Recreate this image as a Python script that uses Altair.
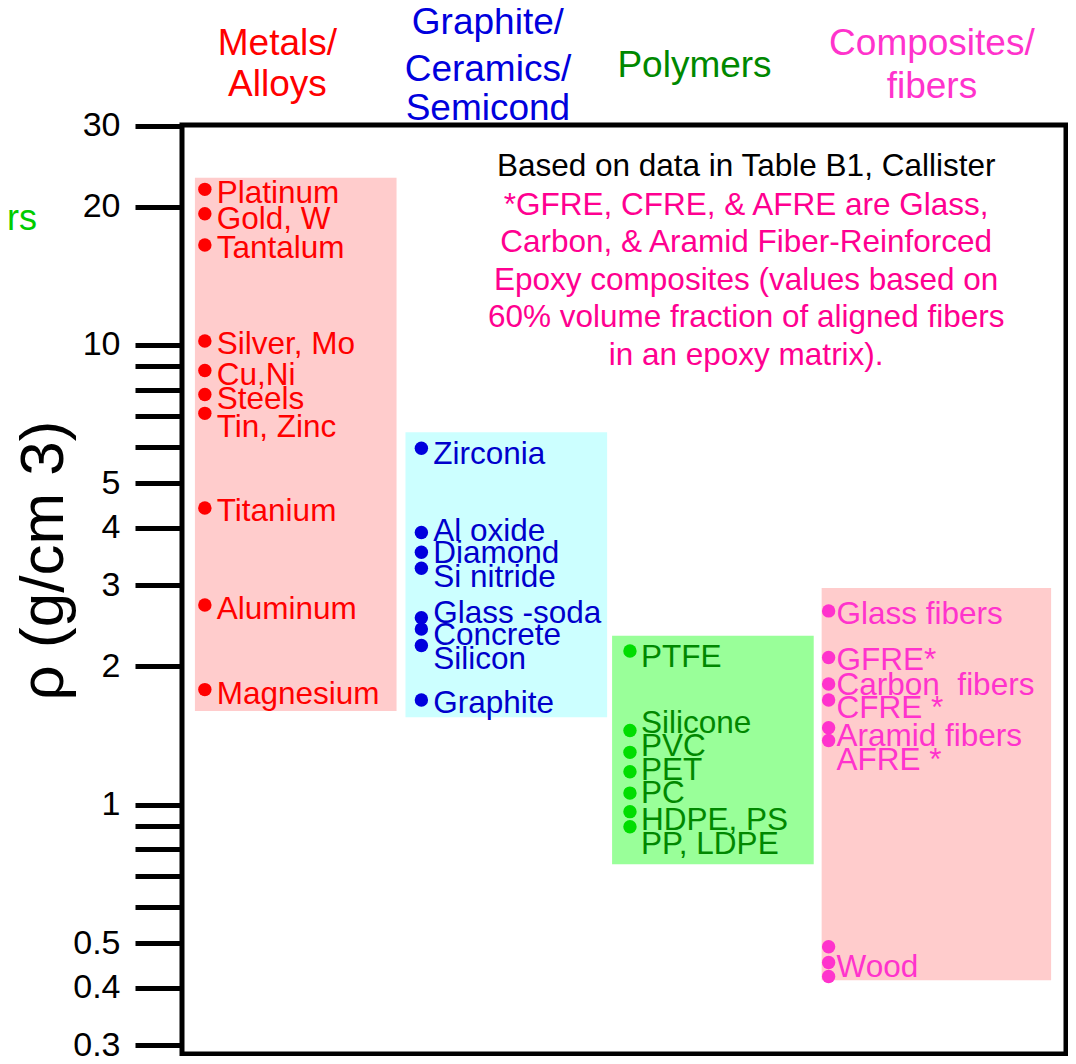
import altair as alt
import pandas as pd

FONT = "Liberation Sans"

# ---------------- data (densities, g/cm3) ----------------
metal_names = ["Platinum", "Gold, W", "Tantalum", "Silver, Mo", "Cu,Ni", "Steels",
               "Tin, Zinc", "Titanium", "Aluminum", "Magnesium"]
metal_dot_rho = [21.8, 19.3, 16.5, 10.2, 8.8, 7.8, 7.1, 4.42, 2.72, 1.78]
metal_label_rho = [21.5, 18.9, 16.3, 10.1, 8.66, 7.65, 6.65, 4.38, 2.68, 1.75]

ceramic_names = ["Zirconia", "Al oxide", "Diamond", "Si nitride", "Glass -soda",
                 "Concrete", "Silicon", "Graphite"]
ceramic_dot_rho = [5.96, 3.91, 3.54, 3.27, 2.55, 2.41, 2.22, 1.69]
ceramic_label_rho = [5.82, 3.95, 3.54, 3.14, 2.62, 2.35, 2.09, 1.67]

polymer_names = ["PTFE", "Silicone", "PVC", "PET", "PC", "HDPE, PS", "PP, LDPE"]
polymer_dot_rho = [2.16, 1.45, 1.30, 1.18, 1.06, 0.966, 0.896]
polymer_label_rho = [2.11, 1.51, 1.35, 1.196, 1.067, 0.933, 0.824]

composite_names = ["Glass fibers", "GFRE*", "Carbon \u00a0fibers", "CFRE *",
                   "Aramid fibers", "AFRE *", "Wood"]
composite_dot_rho = [2.64, 2.09, 1.83, 1.69, 1.47, 1.38, 0.491, 0.454, 0.423]
composite_label_rho = [2.61, 2.07, 1.835, 1.63, 1.42, 1.26, 0.447]

# class ranges (shaded boxes)
box_low = [1.60, 1.55, 0.742, 0.415]
box_high = [23.1, 6.46, 2.33, 2.96]

headers = [["Metals/", "Alloys"],
           ["Graphite/", "Ceramics/", "Semicond"],
           ["Polymers"],
           ["Composites/", "fibers"]]

note_lines = ["Based on data in Table B1, Callister",
              "*GFRE, CFRE, & AFRE are Glass,",
              "Carbon, & Aramid Fiber-Reinforced",
              "Epoxy composites (values based on",
              "60% volume fraction of aligned fibers",
              "in an epoxy matrix)."]

tick_values = [0.3, 0.4, 0.5, 0.6, 0.7, 0.8, 0.9, 1, 2, 3, 4, 5, 6, 7, 8, 9, 10, 20, 30]
tick_labels = [0.3, 0.4, 0.5, 1, 2, 3, 4, 5, 10, 20, 30]

# ---------------- layout / style ----------------
W, H = 884, 929
XSPAN = 890
box_x1 = [13, 225, 433, 644]
box_x2 = [216, 428, 636, 875]
dot_x = [23, 241, 451, 651]
label_x = [35, 253, 462, 659]
header_x = [96, 308, 516, 755]
header_y = [[-81, -40], [-102, -55, -16], [-59], [-81, -38]]
note_x = 568
note_y = [42, 81, 118, 156, 193, 231]
box_fill = ["#FFCCCC", "#CCFFFF", "#99FF99", "#FFCCCC"]
dot_color = ["#FF0000", "#0000DD", "#00DD00", "#FF33CC"]
text_color = ["#FF0000", "#0000CC", "#008800", "#FF33CC"]
header_color = ["#FF0000", "#0000DD", "#008800", "#FF33CC"]
note_color = ["#000000"] + ["#FF0090"] * 5

groups_dot = [metal_dot_rho, ceramic_dot_rho, polymer_dot_rho, composite_dot_rho]
groups_lab = [metal_label_rho, ceramic_label_rho, polymer_label_rho, composite_label_rho]
groups_name = [metal_names, ceramic_names, polymer_names, composite_names]

# ---------------- tables ----------------
boxes = pd.DataFrame({"x1": box_x1, "x2": box_x2, "lo": box_low, "hi": box_high,
                      "fill": box_fill})

dot_rows = []
lab_rows = []
for i in range(4):
    for v in groups_dot[i]:
        dot_rows.append({"x": dot_x[i], "rho": v, "c": dot_color[i]})
    for n, v in zip(groups_name[i], groups_lab[i]):
        lab_rows.append({"x": label_x[i], "rho": v, "name": n, "c": text_color[i]})
dots = pd.DataFrame(dot_rows)
labels = pd.DataFrame(lab_rows)

hdr_rows = []
for i in range(4):
    for t, yy in zip(headers[i], header_y[i]):
        hdr_rows.append({"x": header_x[i], "py": yy, "t": t, "c": header_color[i]})
hdr = pd.DataFrame(hdr_rows)

notes = pd.DataFrame({"x": [note_x] * len(note_lines), "py": note_y,
                      "t": note_lines, "c": note_color})

xs = alt.Scale(domain=[0, XSPAN], nice=False, zero=False)
ys = alt.Scale(type="log", domain=[0.287, 30.09], nice=False)

label_test = "indexof([" + ",".join(str(v) for v in tick_labels) + "], datum.value) >= 0 ? datum.label : ''"

yaxis = alt.Axis(values=tick_values, labelExpr=label_test, format="~g",
                 tickSize=47, tickWidth=5, tickColor="black", domain=False, grid=False,
                 labelFontSize=34, labelFont=FONT, labelColor="black", labelPadding=15,
                 labelOverlap=False, labelFlush=False,
                 title="ρ (g/cm 3)", titleFontSize=62, titleFont=FONT,
                 titleFontWeight="normal", titleColor="black",
                 titleX=-139, titleY=435, titleAngle=270,
                 titleAlign="center", titleBaseline="middle")

rects = alt.Chart(boxes).mark_rect().encode(
    x=alt.X("x1:Q", scale=xs, axis=None),
    x2="x2:Q",
    y=alt.Y("lo:Q", scale=ys, axis=yaxis),
    y2="hi:Q",
    color=alt.Color("fill:N", scale=None),
)

pts = alt.Chart(dots).mark_circle(size=180, opacity=1).encode(
    x=alt.X("x:Q", scale=xs, axis=None),
    y=alt.Y("rho:Q", scale=ys),
    color=alt.Color("c:N", scale=None),
)

txt = alt.Chart(labels).mark_text(align="left", baseline="middle", fontSize=31.5,
                                  font=FONT, dy=2).encode(
    x=alt.X("x:Q", scale=xs, axis=None),
    y=alt.Y("rho:Q", scale=ys),
    text="name:N",
    color=alt.Color("c:N", scale=None),
)

hdr_txt = alt.Chart(hdr).mark_text(align="center", baseline="middle", fontSize=37,
                                   font=FONT).encode(
    x=alt.X("x:Q", scale=xs, axis=None),
    y=alt.Y("py:Q", scale=None),
    text="t:N",
    color=alt.Color("c:N", scale=None),
)

note_txt = alt.Chart(notes).mark_text(align="center", baseline="middle", fontSize=31.5,
                                      font=FONT).encode(
    x=alt.X("x:Q", scale=xs, axis=None),
    y=alt.Y("py:Q", scale=None),
    text="t:N",
    color=alt.Color("c:N", scale=None),
)

stray = alt.Chart(pd.DataFrame({"t": ["rs"]})).mark_text(
    align="left", baseline="middle", fontSize=36, font=FONT, color="#00CC00"
).encode(x=alt.value(-175), y=alt.value(94), text="t:N")

chart = alt.layer(rects, pts, txt, hdr_txt, note_txt, stray).properties(
    width=W, height=H,
    autosize=alt.AutoSizeParams(type="none"),
    padding={"left": 174, "top": 117, "right": 2, "bottom": 2},
).configure_view(stroke="black", strokeWidth=5)

chart.save("out.html", embed_options={"renderer": "svg", "actions": False})
